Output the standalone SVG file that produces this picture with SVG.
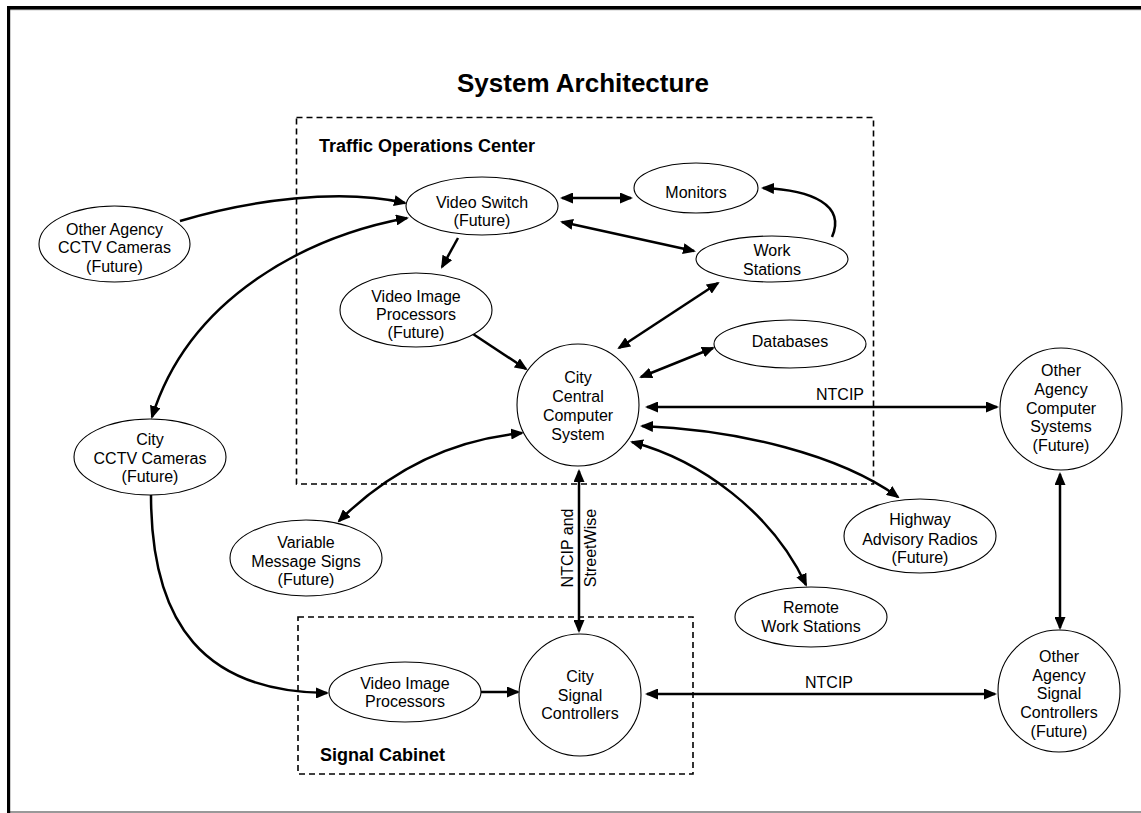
<svg xmlns="http://www.w3.org/2000/svg" width="1141" height="813" viewBox="0 0 1141 813">
<style>
.nd{fill:#fff;stroke:#000;stroke-width:1.1}
.t{font-family:"Liberation Sans",Arial,sans-serif;font-size:16px;fill:#000;text-anchor:middle}
.b{font-family:"Liberation Sans",Arial,sans-serif;font-weight:bold;font-size:18px;fill:#000}
.c{fill:none;stroke:#000;stroke-width:2.5}
.box{fill:none;stroke:#000;stroke-width:1.6;stroke-dasharray:6 4}
</style>
<defs>
<marker id="ah" markerUnits="userSpaceOnUse" markerWidth="13" markerHeight="11" refX="11" refY="5.5" orient="auto-start-reverse" viewBox="0 0 13 11">
<path d="M0,0 L13,5.5 L0,11 z" fill="#000"/>
</marker>
</defs>
<rect width="1141" height="813" fill="#fff"/>
<g id="frame">
<line x1="10" y1="9.8" x2="1141" y2="9.8" stroke="#aaa" stroke-width="1"/>
<line x1="10" y1="812" x2="1141" y2="812" stroke="#777" stroke-width="1.6"/>
<rect x="7" y="6" width="1134" height="3.5" fill="#000"/>
<rect x="7" y="6" width="3.2" height="807" fill="#000"/>
</g>
<text x="583" y="92" class="b" style="font-size:26px" text-anchor="middle">System Architecture</text>
<g id="toc">
<rect x="296.5" y="117.5" width="577" height="366.5" class="box"/>
<text x="319" y="152" class="b">Traffic Operations Center</text>
</g>
<g id="cabinet">
<rect x="298" y="617" width="395" height="157" class="box"/>
<text x="320" y="761" class="b">Signal Cabinet</text>
</g>
<g id="connectors">
<path class="c" d="M180,221 C250,200 340,188 405,203" marker-end="url(#ah)"/>
<path class="c" d="M407,218 C310,236 190,295 152,417" marker-start="url(#ah)" marker-end="url(#ah)"/>
<path class="c" d="M151,495 C151,625 205,692 327,693" marker-end="url(#ah)"/>
<path class="c" d="M458,238 L442,267" marker-end="url(#ah)"/>
<path class="c" d="M562,198 L631,198" marker-start="url(#ah)" marker-end="url(#ah)"/>
<path class="c" d="M562,222 L694,251" marker-start="url(#ah)" marker-end="url(#ah)"/>
<path class="c" d="M832,237 C846,205 812,190 763,188" marker-end="url(#ah)"/>
<path class="c" d="M718,283 L619,348" marker-start="url(#ah)" marker-end="url(#ah)"/>
<path class="c" d="M641,377 L713,348" marker-start="url(#ah)" marker-end="url(#ah)"/>
<path class="c" d="M473,334 L526,369" marker-end="url(#ah)"/>
<path class="c" d="M522,433 C450,440 390,470 339,521" marker-start="url(#ah)" marker-end="url(#ah)"/>
<path class="c" d="M647,407 L997,407" marker-start="url(#ah)" marker-end="url(#ah)"/>
<path class="c" d="M642,426 C740,430 840,455 898,497" marker-start="url(#ah)" marker-end="url(#ah)"/>
<path class="c" d="M632,442 C700,460 772,512 806,585" marker-start="url(#ah)" marker-end="url(#ah)"/>
<path class="c" d="M579,471 L579,631" marker-start="url(#ah)" marker-end="url(#ah)"/>
<path class="c" d="M647,694 L995,694" marker-start="url(#ah)" marker-end="url(#ah)"/>
<path class="c" d="M1060,474 L1060,628" marker-start="url(#ah)" marker-end="url(#ah)"/>
<path class="c" d="M481,692 L518,692" marker-end="url(#ah)"/>
<text x="840" y="400" class="t">NTCIP</text>
<text x="829" y="688" class="t">NTCIP</text>
<text transform="translate(573,548) rotate(-90)" class="t">NTCIP and</text>
<text transform="translate(596,548) rotate(-90)" class="t">StreetWise</text>
</g>
<g id="n-oacctv">
<ellipse cx="114.5" cy="244" rx="75.5" ry="38" class="nd"/>
<text class="t"><tspan x="114.5" y="235">Other Agency</tspan><tspan x="114.5" y="253">CCTV Cameras</tspan><tspan x="114.5" y="272">(Future)</tspan></text>
</g>
<g id="n-citycctv">
<ellipse cx="150" cy="457" rx="76" ry="38" class="nd"/>
<text class="t"><tspan x="150" y="445">City</tspan><tspan x="150" y="464">CCTV Cameras</tspan><tspan x="150" y="482">(Future)</tspan></text>
</g>
<g id="n-vms">
<ellipse cx="306" cy="558" rx="76" ry="38" class="nd"/>
<text class="t"><tspan x="306" y="548">Variable</tspan><tspan x="306" y="567">Message Signs</tspan><tspan x="306" y="585">(Future)</tspan></text>
</g>
<g id="n-har">
<ellipse cx="920" cy="536" rx="76" ry="37" class="nd"/>
<text class="t"><tspan x="920" y="525">Highway</tspan><tspan x="920" y="545">Advisory Radios</tspan><tspan x="920" y="563">(Future)</tspan></text>
</g>
<g id="n-vipf">
<ellipse cx="416" cy="310" rx="76" ry="37" class="nd"/>
<text class="t"><tspan x="416" y="302">Video Image</tspan><tspan x="416" y="320">Processors</tspan><tspan x="416" y="338">(Future)</tspan></text>
</g>
<g id="n-vswitch">
<ellipse cx="482" cy="206" rx="76" ry="29" class="nd"/>
<text class="t"><tspan x="482" y="208">Video Switch</tspan><tspan x="482" y="226">(Future)</tspan></text>
</g>
<g id="n-monitors">
<ellipse cx="696" cy="188" rx="62" ry="25" class="nd"/>
<text x="696" y="198" class="t">Monitors</text>
</g>
<g id="n-ws">
<ellipse cx="772" cy="259" rx="76" ry="23" class="nd"/>
<text class="t"><tspan x="772" y="256">Work</tspan><tspan x="772" y="275">Stations</tspan></text>
</g>
<g id="n-db">
<ellipse cx="790" cy="344" rx="76" ry="24" class="nd"/>
<text x="790" y="347" class="t">Databases</text>
</g>
<g id="n-central">
<circle cx="578" cy="405" r="61" class="nd"/>
<text class="t"><tspan x="578" y="383">City</tspan><tspan x="578" y="402">Central</tspan><tspan x="578" y="421">Computer</tspan><tspan x="578" y="440">System</tspan></text>
</g>
<g id="n-rws">
<ellipse cx="811" cy="617" rx="76" ry="30" class="nd"/>
<text class="t"><tspan x="811" y="613">Remote</tspan><tspan x="811" y="632">Work Stations</tspan></text>
</g>
<g id="n-oacs">
<circle cx="1061" cy="409" r="61" class="nd"/>
<text class="t"><tspan x="1061" y="376">Other</tspan><tspan x="1061" y="395">Agency</tspan><tspan x="1061" y="414">Computer</tspan><tspan x="1061" y="432">Systems</tspan><tspan x="1061" y="451">(Future)</tspan></text>
</g>
<g id="n-oasc">
<circle cx="1059" cy="691" r="61" class="nd"/>
<text class="t"><tspan x="1059" y="662">Other</tspan><tspan x="1059" y="681">Agency</tspan><tspan x="1059" y="699">Signal</tspan><tspan x="1059" y="718">Controllers</tspan><tspan x="1059" y="737">(Future)</tspan></text>
</g>
<g id="n-vipc">
<ellipse cx="405" cy="692" rx="76" ry="30" class="nd"/>
<text class="t"><tspan x="405" y="689">Video Image</tspan><tspan x="405" y="707">Processors</tspan></text>
</g>
<g id="n-csc">
<circle cx="580" cy="695" r="61" class="nd"/>
<text class="t"><tspan x="580" y="682">City</tspan><tspan x="580" y="701">Signal</tspan><tspan x="580" y="719">Controllers</tspan></text>
</g>
</svg>
